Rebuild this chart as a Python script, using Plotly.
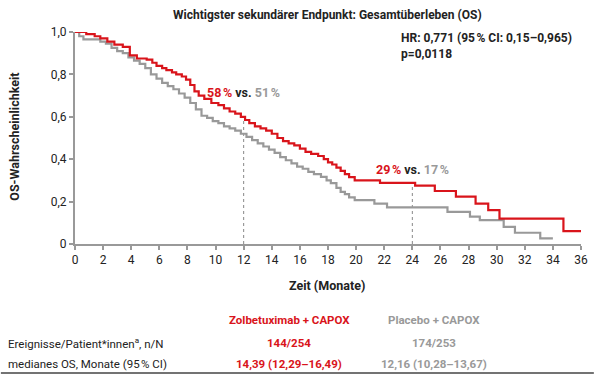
import plotly.graph_objects as go

# ---- data ----
zolb_t = [0, 0.8, 1.4, 1.8, 2.3, 2.8, 3.4, 3.9, 4.4, 5.1, 5.5, 5.8, 6.2, 6.5, 6.9, 7.2, 7.6, 7.9, 8.2, 8.5,
          8.8, 9.2, 9.7, 10.2, 10.6, 11.0, 11.4, 11.8, 12.1, 12.4, 12.8, 13.2, 13.6, 14.0, 14.4, 14.8, 15.2,
          15.6, 16.0, 16.4, 16.8, 17.3, 17.7, 18.0, 18.3, 18.6, 18.9, 19.2, 19.5, 19.9, 21.7, 24.2, 25.6,
          27.1, 28.5, 29.4, 30.2, 34.75, 36]
zolb_s = [1.0, 0.99, 0.98, 0.97, 0.955, 0.94, 0.93, 0.89, 0.875, 0.87, 0.855, 0.84, 0.83, 0.82, 0.81, 0.80,
          0.79, 0.775, 0.75, 0.72, 0.70, 0.685, 0.665, 0.655, 0.64, 0.625, 0.615, 0.60, 0.585, 0.57, 0.555,
          0.545, 0.535, 0.52, 0.50, 0.485, 0.475, 0.465, 0.45, 0.435, 0.425, 0.415, 0.40, 0.385, 0.375, 0.36,
          0.345, 0.33, 0.315, 0.30, 0.288, 0.275, 0.25, 0.223, 0.19, 0.16, 0.12, 0.061, 0.061]

plac_t = [0, 0.3, 0.6, 1.8, 2.2, 2.6, 3.0, 3.4, 3.8, 4.2, 4.6, 5.0, 5.4, 5.8, 6.2, 6.6, 7.0, 7.4, 7.8, 8.2,
          8.6, 9.0, 9.4, 9.8, 10.2, 10.6, 11.0, 11.4, 11.8, 12.2, 12.6, 13.0, 13.4, 13.8, 14.2, 14.6, 15.0,
          15.4, 15.8, 16.2, 16.6, 17.0, 17.5, 17.9, 18.2, 18.6, 18.9, 19.2, 19.5, 19.9, 21.3, 22.2, 26.5,
          28.1, 28.8, 30.5, 31.3, 33.1, 34.0]
plac_s = [1.0, 0.98, 0.965, 0.955, 0.945, 0.925, 0.91, 0.90, 0.88, 0.865, 0.85, 0.83, 0.80, 0.78, 0.76,
          0.745, 0.73, 0.71, 0.69, 0.665, 0.635, 0.605, 0.595, 0.58, 0.57, 0.555, 0.545, 0.535, 0.52, 0.505,
          0.49, 0.475, 0.46, 0.445, 0.43, 0.41, 0.395, 0.38, 0.365, 0.355, 0.34, 0.33, 0.317, 0.30, 0.287,
          0.265, 0.246, 0.235, 0.22, 0.207, 0.19, 0.173, 0.152, 0.129, 0.113, 0.081, 0.053, 0.027, 0.027]

x_ticks = list(range(0, 37, 2))
y_ticks = [0, 0.2, 0.4, 0.6, 0.8, 1.0]
y_tick_labels = ["0", "0,2", "0,4", "0,6", "0,8", "1,0"]

landmark_t = [12, 24]
landmark_zolb = [0.585, 0.288]
landmark_labels = [("58\u202f%", "51\u202f%"), ("29\u202f%", "17\u202f%")]
landmark_label_y = [0.715, 0.35]

table_header = ["Zolbetuximab + CAPOX", "Placebo + CAPOX"]
table_rows = ["Ereignisse/Patient*innen<sup>a</sup>, n/N", "medianes OS, Monate (95\u202f% CI)"]
table_zolb = ["144/254", "14,39 (12,29–16,49)"]
table_plac = ["174/253", "12,16 (10,28–13,67)"]

RED = "#d9141b"
GRAY = "#999999"
DARK = "#222222"
FONT = "Roboto"

# ---- layout geometry ----
W, H = 600, 374
L, R, T, B = 75, 13, 32, 130
pw, ph = W - L - R, H - T - B


def py(p):  # pixel y -> paper y
    return (H - B - p) / ph


def px(p):  # pixel x -> paper x
    return (p - L) / pw


fig = go.Figure()

for t, s in zip(landmark_t, landmark_zolb):
    fig.add_trace(go.Scatter(x=[t, t], y=[0, s], mode="lines",
                             line=dict(color="#888888", width=1, dash="dot"),
                             hoverinfo="skip", showlegend=False))

fig.add_trace(go.Scatter(x=plac_t, y=plac_s, mode="lines", line_shape="hv",
                         line=dict(color=GRAY, width=2.2), showlegend=False, cliponaxis=False))
fig.add_trace(go.Scatter(x=zolb_t, y=zolb_s, mode="lines", line_shape="hv",
                         line=dict(color=RED, width=2.2), showlegend=False, cliponaxis=False))

annotations = []
for t, (a, b), ly in zip(landmark_t, landmark_labels, landmark_label_y):
    annotations.append(dict(
        x=t, y=ly, xref="x", yref="y", showarrow=False,
        text=f"<b><span style='color:{RED}'>{a}</span> vs. <span style='color:{GRAY}'>{b}</span></b>",
        font=dict(family=FONT, size=12.5, color=DARK), xanchor="center", yanchor="middle"))

annotations.append(dict(x=px(330), y=py(15), xref="paper", yref="paper", showarrow=False,
                        text="<b>Wichtigster sekundärer Endpunkt: Gesamtüberleben (OS)</b>",
                        font=dict(family=FONT, size=12, color=DARK), xanchor="center", yanchor="middle"))
annotations.append(dict(x=px(403), y=py(46), xref="paper", yref="paper", showarrow=False, align="left",
                        text="<b>HR: 0,771 (95\u202f% CI: 0,15–0,965)<br>p=0,0118</b>",
                        font=dict(family=FONT, size=12, color=DARK), xanchor="left", yanchor="middle"))
annotations.append(dict(x=px(13), y=py(137), xref="paper", yref="paper", showarrow=False, textangle=-90,
                        text="<b>OS-Wahrscheinlichkeit</b>",
                        font=dict(family=FONT, size=12.5, color=DARK), xanchor="center", yanchor="middle"))
annotations.append(dict(x=px(330), y=py(285), xref="paper", yref="paper", showarrow=False,
                        text="<b>Zeit (Monate)</b>",
                        font=dict(family=FONT, size=12.5, color=DARK), xanchor="center", yanchor="middle"))

col_x = [292, 438]
col_col = [RED, GRAY]
row_y = [343, 364]
TS = 11.5
for cx, txt, c in zip(col_x, table_header, col_col):
    annotations.append(dict(x=px(cx), y=py(320), xref="paper", yref="paper", showarrow=False,
                            text=f"<b>{txt}</b>", font=dict(family=FONT, size=TS, color=c),
                            xanchor="center", yanchor="middle"))
for ry, lab, zv, pv in zip(row_y, table_rows, table_zolb, table_plac):
    annotations.append(dict(x=px(5), y=py(ry), xref="paper", yref="paper", showarrow=False,
                            text=lab, font=dict(family=FONT, size=TS, color=DARK),
                            xanchor="left", yanchor="middle"))
    for cx, v, c in zip(col_x, [zv, pv], col_col):
        annotations.append(dict(x=px(cx), y=py(ry), xref="paper", yref="paper", showarrow=False,
                                text=f"<b>{v}</b>", font=dict(family=FONT, size=TS, color=c),
                                xanchor="center", yanchor="middle"))

fig.update_layout(
    width=W, height=H, margin=dict(l=L, r=R, t=T, b=B),
    paper_bgcolor="white", plot_bgcolor="white",
    font=dict(family=FONT, color=DARK),
    annotations=annotations,
    shapes=[dict(type="line", xref="paper", yref="paper", x0=px(0), x1=px(600), y0=py(373), y1=py(373),
                 line=dict(color="#444444", width=1.5))],
    xaxis=dict(range=[0, 36], tickvals=x_ticks, ticktext=[str(v) for v in x_ticks],
               showgrid=False, zeroline=False, showline=True, linecolor=GRAY, linewidth=2,
               ticks="outside", ticklen=4, tickcolor=GRAY, tickwidth=1.5,
               tickfont=dict(family=FONT, size=12, color=DARK)),
    yaxis=dict(range=[0, 1.0], tickvals=y_ticks, ticktext=y_tick_labels,
               showgrid=False, zeroline=False, showline=True, linecolor=GRAY, linewidth=2,
               ticks="outside", ticklen=4, tickcolor=GRAY, tickwidth=1.5,
               tickfont=dict(family=FONT, size=12, color=DARK)),
)

fig.write_html("out.html", config={"displayModeBar": False},
               post_script="document.documentElement.style.overflow='hidden';"
                           "document.body.style.overflow='hidden';"
                           "document.body.style.margin='0';document.body.style.padding='0';")
